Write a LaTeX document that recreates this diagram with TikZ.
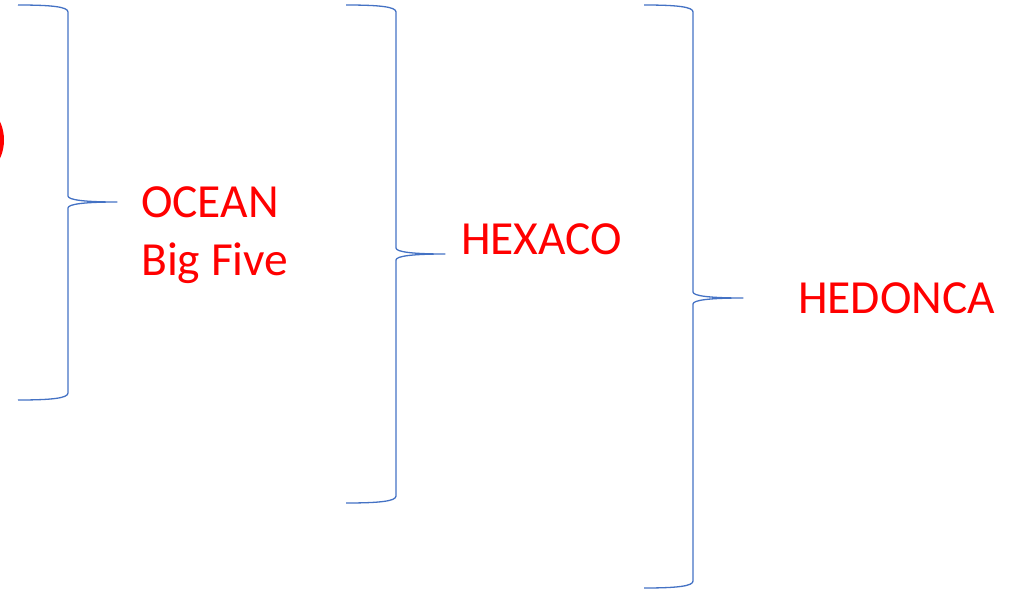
\documentclass[tikz,border=0pt]{standalone}
\usepackage{fontspec}
\setmainfont{Carlito}
\definecolor{braceblue}{RGB}{68,114,196}
\definecolor{labelred}{RGB}{255,0,0}
\tikzset{
  x=1pt, y=-1pt,
  bracepath/.style={draw=braceblue, line width=1.3pt, line join=round},
  lbltext/.style={text=labelred, font=\fontsize{47.5}{58}\selectfont, inner sep=0pt, anchor=base west, align=left},
}
% right brace: #1 = x of the open ends, #2 = x of the spine, #3 = x of the tip,
% #4 = top y, #5 = tip y, #6 = bottom y
\newcommand{\drawrbrace}[6]{%
  \draw[bracepath] (#1,#4) .. controls ({#1+0.7*(#2-#1)},#4) and (#2,{#4+2}) .. (#2,{#4+7})
    -- (#2,{#5-6}) .. controls (#2,{#5-2}) and ({#2+0.35*(#3-#2)},#5) .. (#3,#5)
    .. controls ({#2+0.35*(#3-#2)},#5) and (#2,{#5+2}) .. (#2,{#5+6})
    -- (#2,{#6-7}) .. controls (#2,{#6-2}) and ({#1+0.7*(#2-#1)},#6) .. (#1,#6);%
}
\begin{document}
\begin{tikzpicture}
  \useasboundingbox (0,0) rectangle (1025,591);
  % red outline cut off at the left edge
  \begin{scope}
    \clip (0,0) rectangle (1025,591);
    \draw[labelred, line width=4pt] (-32,140) ellipse (34 and 38);
  \end{scope}
  % braces
  \drawrbrace{18}{68}{117}{5}{202}{400}
  \drawrbrace{346}{396}{445}{5}{254}{503}
  \drawrbrace{644}{693}{743}{5}{298}{588}
  % labels
  \node[lbltext] (ocean) at (141,217) {OCEAN};
  \node[lbltext] (bigfive) at (141,275) {Big Five};
  \node[lbltext] (hexaco) at (461,254) {HEXACO};
  \node[lbltext] (hedonca) at (798,313) {HEDONCA};
\end{tikzpicture}
\end{document}
